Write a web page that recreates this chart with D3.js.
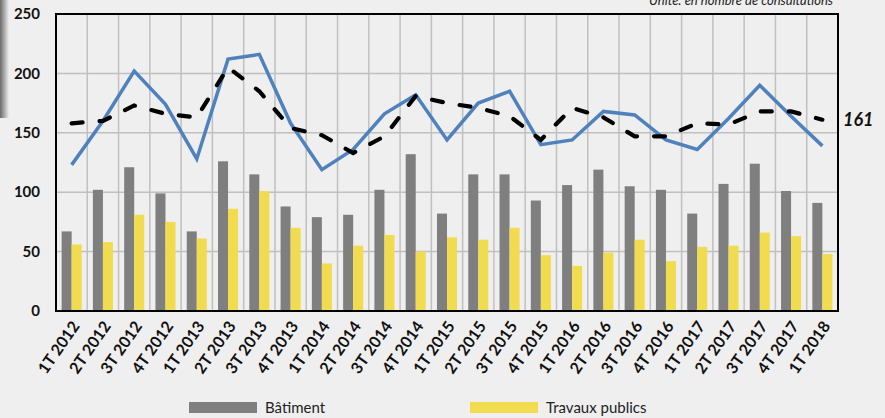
<!DOCTYPE html>
<html>
<head>
<meta charset="utf-8">
<script src="https://cdn.jsdelivr.net/npm/d3@7/dist/d3.min.js"></script>
<style>
body{margin:0;background:#efefef;}
svg{display:block;font-family:Lato,"Open Sans",sans-serif;}
</style>
</head>
<body>
<div id="chart"></div>
<script>
var categories=["1T 2012","2T 2012","3T 2012","4T 2012","1T 2013","2T 2013","3T 2013","4T 2013",
  "1T 2014","2T 2014","3T 2014","4T 2014","1T 2015","2T 2015","3T 2015","4T 2015",
  "1T 2016","2T 2016","3T 2016","4T 2016","1T 2017","2T 2017","3T 2017","4T 2017","1T 2018"];
var batiment=[67,102,121,99,67,126,115,88,79,81,102,132,82,115,115,93,106,119,105,102,82,107,124,101,91];
var travaux=[56,58,81,75,61,86,101,70,40,55,64,50,62,60,70,47,38,49,60,42,54,55,66,63,48];
var ensemble=[123,160,202,174,128,212,216,158,119,136,166,182,144,175,185,140,144,168,165,144,136,162,190,164,139];
var tendance=[158,160,173,166,163,205,185,154,148,133,147,181,175,171,164,144,171,163,147,147,158,157,168,168,161];
var yTicks=[0,50,100,150,200,250];

var width=885, height=418;
var margin={left:56,top:14,right:47,bottom:107};

var svg=d3.select("#chart").append("svg")
    .attr("width",width)
    .attr("height",height);

// shadow strip on the left edge
var grad=svg.append("defs").append("linearGradient").attr("id","shadow")
    .attr("x1","0").attr("x2","1").attr("y1","0").attr("y2","0");
grad.append("stop").attr("offset","0").attr("stop-color","#6a6a6a");
grad.append("stop").attr("offset","1").attr("stop-color","#efefef");
svg.append("rect").attr("x",0).attr("y",0).attr("width",9).attr("height",118).attr("fill","url(#shadow)");

var x=d3.scaleBand().domain(categories).range([margin.left,width-margin.right]);
var y=d3.scaleLinear().domain([0,250]).range([height-margin.bottom,margin.top]);

var inner=d3.scaleBand().domain(["b","t"]).range([0,x.bandwidth()]).paddingOuter(0.56).paddingInner(0);

// grid
svg.append("g").selectAll("line.h").data(yTicks.slice(1,-1)).enter().append("line")
    .attr("x1",margin.left).attr("x2",width-margin.right)
    .attr("y1",d=>y(d)).attr("y2",d=>y(d))
    .attr("stroke","#c0c0c0").attr("stroke-width",1.5);
svg.append("g").selectAll("line.v").data(categories.slice(1)).enter().append("line")
    .attr("x1",d=>x(d)).attr("x2",d=>x(d))
    .attr("y1",margin.top).attr("y2",height-margin.bottom)
    .attr("stroke","#c0c0c0").attr("stroke-width",1.5);

// bars
svg.append("g").selectAll("rect").data(batiment).enter().append("rect")
    .attr("x",(d,i)=>x(categories[i])+inner("b"))
    .attr("width",inner.bandwidth())
    .attr("y",d=>y(d))
    .attr("height",d=>y(0)-y(d))
    .attr("fill","#7f7f7f");
svg.append("g").selectAll("rect").data(travaux).enter().append("rect")
    .attr("x",(d,i)=>x(categories[i])+inner("t"))
    .attr("width",inner.bandwidth())
    .attr("y",d=>y(d))
    .attr("height",d=>y(0)-y(d))
    .attr("fill","#f0dc4e");

// lines
var line=d3.line()
    .x((d,i)=>x(categories[i])+x.bandwidth()/2)
    .y(d=>y(d));
svg.append("path").datum(ensemble)
    .attr("d",line)
    .attr("fill","none")
    .attr("stroke","#4f81bd")
    .attr("stroke-width",3.5)
    .attr("stroke-linejoin","miter");
svg.append("path").datum(tendance)
    .attr("d",line)
    .attr("fill","none")
    .attr("stroke","#000")
    .attr("stroke-width",4.2)
    .attr("stroke-dasharray","11,17")
    .attr("stroke-linecap","round");

// frame
svg.append("rect")
    .attr("x",margin.left).attr("y",margin.top)
    .attr("width",width-margin.left-margin.right)
    .attr("height",height-margin.top-margin.bottom)
    .attr("fill","none").attr("stroke","#000").attr("stroke-width",2);

// y axis labels
svg.append("g").selectAll("text").data(yTicks).enter().append("text")
    .attr("x",40).attr("y",d=>y(d)).attr("dy","0.35em")
    .attr("text-anchor","end")
    .style("font-size","15px").style("font-weight","bold").style("fill","#111")
    .text(d=>d);

// x axis labels
svg.append("g").selectAll("text").data(categories).enter().append("text")
    .attr("transform",d=>"translate("+(x(d)+x.bandwidth()/2+4)+","+(height-margin.bottom+12)+") rotate(-55)")
    .attr("dy","0.35em")
    .attr("text-anchor","end")
    .style("font-size","16px").style("font-weight","bold").style("fill","#111")
    .text(d=>d);

// end label
svg.append("text")
    .attr("x",843).attr("y",y(tendance[tendance.length-1])).attr("dy","0.35em")
    .style("font-size","18px").style("font-weight","bold").style("font-style","italic").style("fill","#111")
    .text("161");

// unit
svg.append("text")
    .attr("x",833).attr("y",5)
    .attr("text-anchor","end")
    .style("font-size","13px").style("font-style","italic").style("fill","#222")
    .text("Unité: en nombre de consultations");

// legend
var legend=[{name:"Bâtiment",color:"#7f7f7f",x:189},{name:"Travaux publics",color:"#f0dc4e",x:470}];
var lg=svg.append("g").selectAll("g").data(legend).enter().append("g")
    .attr("transform",d=>"translate("+d.x+",402)");
lg.append("rect").attr("width",68).attr("height",11).attr("fill",d=>d.color);
lg.append("text").attr("x",76).attr("y",6).attr("dy","0.35em")
    .style("font-size","15px").style("fill","#222")
    .text(d=>d.name);
</script>
</body>
</html>
